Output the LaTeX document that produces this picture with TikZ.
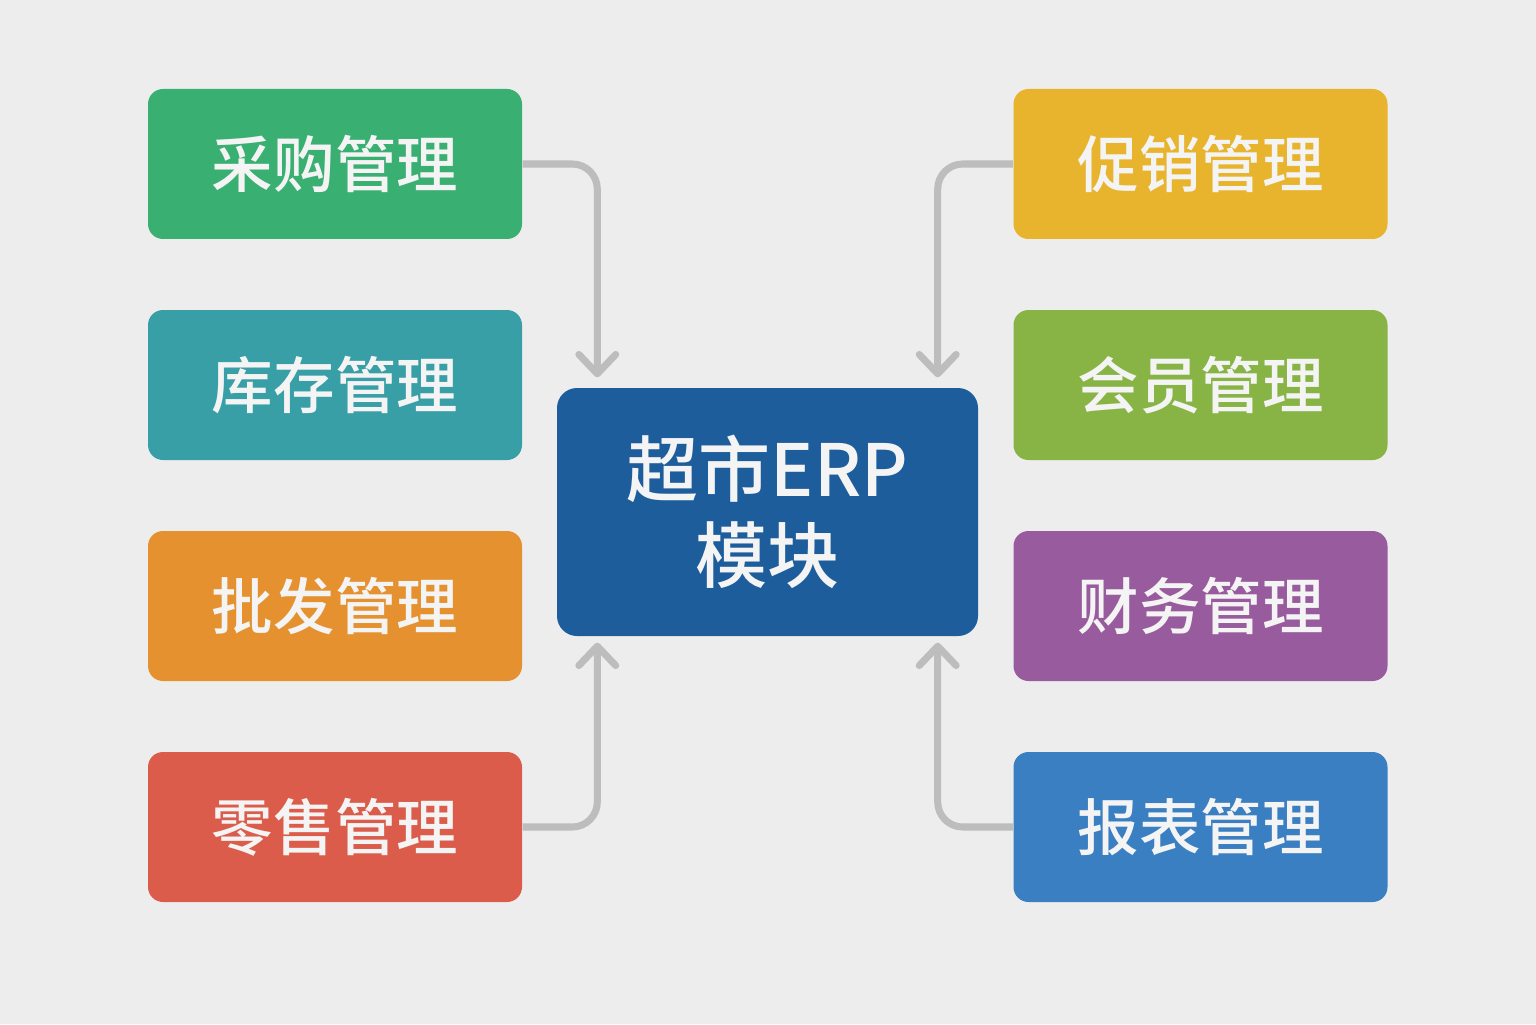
\documentclass[tikz,border=0pt]{standalone}
\usepackage{fontspec}
\newfontfamily\cjk{Noto Sans CJK SC}[UprightFont={* Medium}, BoldFont={* Medium}]
\usetikzlibrary{arrows.meta, positioning}
\definecolor{bgc}{HTML}{EDEDED}
\definecolor{linkc}{HTML}{BDBDBD}
\definecolor{txtc}{HTML}{F4F4F4}
\definecolor{cgreen}{HTML}{3AAF72}
\definecolor{cteal}{HTML}{389FA7}
\definecolor{corange}{HTML}{E5912F}
\definecolor{cred}{HTML}{DC5C4B}
\definecolor{cyellow}{HTML}{E8B42D}
\definecolor{clime}{HTML}{88B445}
\definecolor{cpurple}{HTML}{985B9D}
\definecolor{cblue}{HTML}{3A7FC2}
\definecolor{cnavy}{HTML}{1E5D9C}
\tikzset{module/.style={rounded corners=0.15cm, minimum width=3.74cm, minimum height=1.5cm,
    text=txtc, font=\cjk\fontsize{17.5}{20}\selectfont, inner sep=0pt},
    hub/.style={rounded corners=0.2cm, minimum width=4.21cm, minimum height=2.48cm,
    text=txtc, font=\cjk\fontsize{20.5}{24.5}\selectfont, align=center, inner sep=0pt},
    link/.style={draw=linkc, line width=2pt, rounded corners=0.25cm,
    -{Straight Barb[length=5.5pt, width=10.5pt, round]}}}

\begin{document}
\begin{tikzpicture}
    \useasboundingbox[fill=bgc] (0,0) rectangle (15.36,10.24);
    % centre
    \node[hub, fill=cnavy] (erp) at (7.675,5.12) {超市ERP\\模块};
    % left column
    \node[module, fill=cgreen] (buy) at (3.35,8.60) {采购管理};
    \node[module, fill=cteal] (stock) at (3.35,6.39) {库存管理};
    \node[module, fill=corange] (whole) at (3.35,4.18) {批发管理};
    \node[module, fill=cred] (retail) at (3.35,1.97) {零售管理};
    % right column
    \node[module, fill=cyellow] (promo) at (12.005,8.60) {促销管理};
    \node[module, fill=clime] (member) at (12.005,6.39) {会员管理};
    \node[module, fill=cpurple] (fin) at (12.005,4.18) {财务管理};
    \node[module, fill=cblue] (report) at (12.005,1.97) {报表管理};
    % arrow ends
    \coordinate (inTL) at ([xshift=0.41cm, yshift=0.1cm]erp.north west);
    \coordinate (inTR) at ([xshift=-0.41cm, yshift=0.1cm]erp.north east);
    \coordinate (inBL) at ([xshift=0.41cm, yshift=-0.06cm]erp.south west);
    \coordinate (inBR) at ([xshift=-0.41cm, yshift=-0.06cm]erp.south east);
    \draw[link] (buy.east) -| (inTL);
    \draw[link] (promo.west) -| (inTR);
    \draw[link] (retail.east) -| (inBL);
    \draw[link] (report.west) -| (inBR);
\end{tikzpicture}
\end{document}
